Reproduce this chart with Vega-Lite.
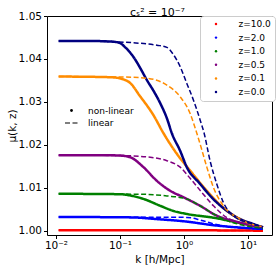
{
  "$schema": "https://vega.github.io/schema/vega-lite/v6.json",
  "width": 225,
  "height": 219,
  "autosize": {"type": "none"},
  "padding": {"left": 47, "top": 16, "right": 6, "bottom": 33},
  "background": "white",
  "config": {
    "font": "DejaVu Sans",
    "view": {"stroke": "black", "strokeWidth": 1},
    "axis": {"grid": false, "domain": false, "tickColor": "black", "tickSize": 3.5, "labelColor": "black", "labelFontSize": 10.5, "titleFontSize": 10.5, "titleFontWeight": "normal", "titleColor": "black", "labelFont": "DejaVu Sans", "titleFont": "DejaVu Sans"},
    "legend": {"labelFont": "DejaVu Sans", "labelFontSize": 9, "labelColor": "black"}
  },
  "title": {"text": "cₛ² = 10⁻⁷", "fontSize": 11, "fontWeight": "normal", "font": "DejaVu Sans", "offset": 3, "dy": 10, "dx": -2, "color": "black"},
  "data": {"values": [
    {"z": "z=10.0", "type": "non-linear", "k": 0.011, "mu": 1.0001},
    {"z": "z=10.0", "type": "non-linear", "k": 1.0, "mu": 1.0001},
    {"z": "z=10.0", "type": "non-linear", "k": 17.2, "mu": 1.0000},
    {"z": "z=10.0", "type": "linear", "k": 0.011, "mu": 1.0001},
    {"z": "z=10.0", "type": "linear", "k": 1.0, "mu": 1.0001},
    {"z": "z=10.0", "type": "linear", "k": 17.2, "mu": 1.0000},

    {"z": "z=2.0", "type": "non-linear", "k": 0.011, "mu": 1.0032},
    {"z": "z=2.0", "type": "non-linear", "k": 0.15, "mu": 1.0031},
    {"z": "z=2.0", "type": "non-linear", "k": 0.378, "mu": 1.0027},
    {"z": "z=2.0", "type": "non-linear", "k": 0.982, "mu": 1.0022},
    {"z": "z=2.0", "type": "non-linear", "k": 3.26, "mu": 1.0012},
    {"z": "z=2.0", "type": "non-linear", "k": 17.2, "mu": 1.0004},
    {"z": "z=2.0", "type": "linear", "k": 0.011, "mu": 1.0032},
    {"z": "z=2.0", "type": "linear", "k": 1.109, "mu": 1.0031},
    {"z": "z=2.0", "type": "linear", "k": 1.79, "mu": 1.0025},
    {"z": "z=2.0", "type": "linear", "k": 2.89, "mu": 1.0016},
    {"z": "z=2.0", "type": "linear", "k": 5.92, "mu": 1.0008},
    {"z": "z=2.0", "type": "linear", "k": 17.2, "mu": 1.0004},

    {"z": "z=1.0", "type": "non-linear", "k": 0.011, "mu": 1.0086},
    {"z": "z=1.0", "type": "non-linear", "k": 0.1, "mu": 1.0085},
    {"z": "z=1.0", "type": "non-linear", "k": 0.145, "mu": 1.0082},
    {"z": "z=1.0", "type": "non-linear", "k": 0.233, "mu": 1.0074},
    {"z": "z=1.0", "type": "non-linear", "k": 0.426, "mu": 1.0058},
    {"z": "z=1.0", "type": "non-linear", "k": 0.686, "mu": 1.0046},
    {"z": "z=1.0", "type": "non-linear", "k": 1.11, "mu": 1.0039},
    {"z": "z=1.0", "type": "non-linear", "k": 3.26, "mu": 1.0029},
    {"z": "z=1.0", "type": "non-linear", "k": 5.92, "mu": 1.0021},
    {"z": "z=1.0", "type": "non-linear", "k": 17.2, "mu": 1.0007},
    {"z": "z=1.0", "type": "linear", "k": 0.011, "mu": 1.0086},
    {"z": "z=1.0", "type": "linear", "k": 0.2, "mu": 1.0085},
    {"z": "z=1.0", "type": "linear", "k": 0.541, "mu": 1.0081},
    {"z": "z=1.0", "type": "linear", "k": 1.109, "mu": 1.0074},
    {"z": "z=1.0", "type": "linear", "k": 1.79, "mu": 1.0058},
    {"z": "z=1.0", "type": "linear", "k": 2.89, "mu": 1.0039},
    {"z": "z=1.0", "type": "linear", "k": 4.63, "mu": 1.0024},
    {"z": "z=1.0", "type": "linear", "k": 9.58, "mu": 1.0011},
    {"z": "z=1.0", "type": "linear", "k": 17.2, "mu": 1.0006},

    {"z": "z=0.5", "type": "non-linear", "k": 0.011, "mu": 1.0176},
    {"z": "z=0.5", "type": "non-linear", "k": 0.05, "mu": 1.0176},
    {"z": "z=0.5", "type": "non-linear", "k": 0.1, "mu": 1.0175},
    {"z": "z=0.5", "type": "non-linear", "k": 0.145, "mu": 1.0171},
    {"z": "z=0.5", "type": "non-linear", "k": 0.233, "mu": 1.0148},
    {"z": "z=0.5", "type": "non-linear", "k": 0.378, "mu": 1.0116},
    {"z": "z=0.5", "type": "non-linear", "k": 0.609, "mu": 1.0093},
    {"z": "z=0.5", "type": "non-linear", "k": 0.982, "mu": 1.0078},
    {"z": "z=0.5", "type": "non-linear", "k": 1.79, "mu": 1.0058},
    {"z": "z=0.5", "type": "non-linear", "k": 3.26, "mu": 1.0035},
    {"z": "z=0.5", "type": "non-linear", "k": 5.92, "mu": 1.0023},
    {"z": "z=0.5", "type": "non-linear", "k": 17.2, "mu": 1.0008},
    {"z": "z=0.5", "type": "linear", "k": 0.011, "mu": 1.0176},
    {"z": "z=0.5", "type": "linear", "k": 0.1, "mu": 1.0175},
    {"z": "z=0.5", "type": "linear", "k": 0.297, "mu": 1.0171},
    {"z": "z=0.5", "type": "linear", "k": 0.541, "mu": 1.0163},
    {"z": "z=0.5", "type": "linear", "k": 0.873, "mu": 1.0148},
    {"z": "z=0.5", "type": "linear", "k": 1.25, "mu": 1.0122},
    {"z": "z=0.5", "type": "linear", "k": 2.01, "mu": 1.0085},
    {"z": "z=0.5", "type": "linear", "k": 2.89, "mu": 1.0058},
    {"z": "z=0.5", "type": "linear", "k": 4.63, "mu": 1.0031},
    {"z": "z=0.5", "type": "linear", "k": 9.0, "mu": 1.0015},
    {"z": "z=0.5", "type": "linear", "k": 17.2, "mu": 1.0009},

    {"z": "z=0.1", "type": "non-linear", "k": 0.011, "mu": 1.0359},
    {"z": "z=0.1", "type": "non-linear", "k": 0.05, "mu": 1.0358},
    {"z": "z=0.1", "type": "non-linear", "k": 0.0794, "mu": 1.0357},
    {"z": "z=0.1", "type": "non-linear", "k": 0.136, "mu": 1.0347},
    {"z": "z=0.1", "type": "non-linear", "k": 0.209, "mu": 1.0312},
    {"z": "z=0.1", "type": "non-linear", "k": 0.334, "mu": 1.0269},
    {"z": "z=0.1", "type": "non-linear", "k": 0.479, "mu": 1.0227},
    {"z": "z=0.1", "type": "non-linear", "k": 0.775, "mu": 1.0179},
    {"z": "z=0.1", "type": "non-linear", "k": 1.25, "mu": 1.014},
    {"z": "z=0.1", "type": "non-linear", "k": 2.28, "mu": 1.0093},
    {"z": "z=0.1", "type": "non-linear", "k": 4.63, "mu": 1.0047},
    {"z": "z=0.1", "type": "non-linear", "k": 9.58, "mu": 1.002},
    {"z": "z=0.1", "type": "non-linear", "k": 17.2, "mu": 1.0008},
    {"z": "z=0.1", "type": "linear", "k": 0.011, "mu": 1.0359},
    {"z": "z=0.1", "type": "linear", "k": 0.1, "mu": 1.0358},
    {"z": "z=0.1", "type": "linear", "k": 0.264, "mu": 1.0355},
    {"z": "z=0.1", "type": "linear", "k": 0.541, "mu": 1.0339},
    {"z": "z=0.1", "type": "linear", "k": 0.873, "mu": 1.0312},
    {"z": "z=0.1", "type": "linear", "k": 1.25, "mu": 1.0273},
    {"z": "z=0.1", "type": "linear", "k": 1.59, "mu": 1.0227},
    {"z": "z=0.1", "type": "linear", "k": 1.79, "mu": 1.0202},
    {"z": "z=0.1", "type": "linear", "k": 2.28, "mu": 1.0148},
    {"z": "z=0.1", "type": "linear", "k": 2.89, "mu": 1.0101},
    {"z": "z=0.1", "type": "linear", "k": 4.13, "mu": 1.0058},
    {"z": "z=0.1", "type": "linear", "k": 7.53, "mu": 1.0027},
    {"z": "z=0.1", "type": "linear", "k": 17.2, "mu": 1.0009},

    {"z": "z=0.0", "type": "non-linear", "k": 0.011, "mu": 1.0442},
    {"z": "z=0.0", "type": "non-linear", "k": 0.03, "mu": 1.0442},
    {"z": "z=0.0", "type": "non-linear", "k": 0.06, "mu": 1.0441},
    {"z": "z=0.0", "type": "non-linear", "k": 0.0794, "mu": 1.044},
    {"z": "z=0.0", "type": "non-linear", "k": 0.1, "mu": 1.0437},
    {"z": "z=0.0", "type": "non-linear", "k": 0.121, "mu": 1.0427},
    {"z": "z=0.0", "type": "non-linear", "k": 0.162, "mu": 1.0405},
    {"z": "z=0.0", "type": "non-linear", "k": 0.209, "mu": 1.0378},
    {"z": "z=0.0", "type": "non-linear", "k": 0.263, "mu": 1.0351},
    {"z": "z=0.0", "type": "non-linear", "k": 0.334, "mu": 1.0326},
    {"z": "z=0.0", "type": "non-linear", "k": 0.426, "mu": 1.0297},
    {"z": "z=0.0", "type": "non-linear", "k": 0.541, "mu": 1.0262},
    {"z": "z=0.0", "type": "non-linear", "k": 0.647, "mu": 1.0227},
    {"z": "z=0.0", "type": "non-linear", "k": 0.873, "mu": 1.0186},
    {"z": "z=0.0", "type": "non-linear", "k": 1.109, "mu": 1.0148},
    {"z": "z=0.0", "type": "non-linear", "k": 1.79, "mu": 1.0109},
    {"z": "z=0.0", "type": "non-linear", "k": 2.86, "mu": 1.0074},
    {"z": "z=0.0", "type": "non-linear", "k": 4.63, "mu": 1.0047},
    {"z": "z=0.0", "type": "non-linear", "k": 7.53, "mu": 1.0027},
    {"z": "z=0.0", "type": "non-linear", "k": 12.0, "mu": 1.0016},
    {"z": "z=0.0", "type": "non-linear", "k": 17.2, "mu": 1.0008},
    {"z": "z=0.0", "type": "linear", "k": 0.011, "mu": 1.0442},
    {"z": "z=0.0", "type": "linear", "k": 0.05, "mu": 1.0441},
    {"z": "z=0.0", "type": "linear", "k": 0.15, "mu": 1.0438},
    {"z": "z=0.0", "type": "linear", "k": 0.378, "mu": 1.0432},
    {"z": "z=0.0", "type": "linear", "k": 0.541, "mu": 1.0427},
    {"z": "z=0.0", "type": "linear", "k": 0.686, "mu": 1.0410},
    {"z": "z=0.0", "type": "linear", "k": 0.873, "mu": 1.0382},
    {"z": "z=0.0", "type": "linear", "k": 1.109, "mu": 1.0343},
    {"z": "z=0.0", "type": "linear", "k": 1.41, "mu": 1.0304},
    {"z": "z=0.0", "type": "linear", "k": 1.79, "mu": 1.0258},
    {"z": "z=0.0", "type": "linear", "k": 2.07, "mu": 1.0227},
    {"z": "z=0.0", "type": "linear", "k": 2.56, "mu": 1.0163},
    {"z": "z=0.0", "type": "linear", "k": 3.26, "mu": 1.0109},
    {"z": "z=0.0", "type": "linear", "k": 4.13, "mu": 1.0066},
    {"z": "z=0.0", "type": "linear", "k": 5.92, "mu": 1.0035},
    {"z": "z=0.0", "type": "linear", "k": 9.58, "mu": 1.002},
    {"z": "z=0.0", "type": "linear", "k": 17.2, "mu": 1.0009}
  ]},
  "encoding": {
    "x": {"field": "k", "type": "quantitative",
      "scale": {"type": "log", "domain": [0.00724, 23.8], "nice": false},
      "axis": {"values": [0.01, 0.1, 1, 10], "title": "k [h/Mpc]", "titlePadding": 3, "labelPadding": 2,
        "labelExpr": "round(log(datum.value)/LN10) == -2 ? '10⁻²' : round(log(datum.value)/LN10) == -1 ? '10⁻¹' : round(log(datum.value)/LN10) == 0 ? '10⁰' : '10¹'"}},
    "y": {"field": "mu", "type": "quantitative",
      "scale": {"domain": [0.999, 1.05], "nice": false, "zero": false},
      "axis": {"values": [1.0, 1.01, 1.02, 1.03, 1.04, 1.05], "format": ".2f", "title": "μ(k, z)", "titlePadding": 1, "labelPadding": 2}},
    "color": {"field": "z", "type": "nominal",
      "scale": {"domain": ["z=10.0", "z=2.0", "z=1.0", "z=0.5", "z=0.1", "z=0.0"],
                "range": ["#ff0000", "#0000ff", "#008000", "#800080", "#ff8c00", "#000080"]},
      "legend": {"title": null, "orient": "none", "legendX": 153, "legendY": 0,
        "symbolType": "circle", "symbolSize": 6, "symbolStrokeWidth": 0,
        "fillColor": "white", "strokeColor": "#cccccc", "cornerRadius": 3, "padding": 3.5,
        "rowPadding": 3.6, "symbolOffset": 8, "labelOffset": 18,
        "labelExpr": "datum.label + '  '",
        "encode": {"symbols": {"update": {"fill": {"scale": "color", "field": "value"}, "fillOpacity": {"value": 1}}}}}}
  },
  "layer": [
    {"transform": [{"filter": "datum.type == 'non-linear'"}],
     "mark": {"type": "line", "strokeWidth": 2.5, "clip": true, "interpolate": "monotone"},
     "encoding": {"strokeDash": {"field": "type", "type": "nominal",
        "scale": {"domain": ["non-linear", "linear"], "range": [[1, 0], [5, 2.5]]},
        "legend": {"title": null, "orient": "none", "legendX": 20, "legendY": 90,
          "symbolStrokeColor": "black", "symbolStrokeWidth": 1.2, "symbolSize": 169, "symbolType": "stroke",
          "rowPadding": 2.5, "labelOffset": 12,
          "encode": {"symbols": {"update": {
            "shape": {"signal": "datum.value == 'non-linear' ? 'circle' : 'stroke'"},
            "size": {"signal": "datum.value == 'non-linear' ? 8 : 169"},
            "fill": {"signal": "datum.value == 'non-linear' ? 'black' : 'transparent'"},
            "stroke": {"value": "black"},
            "strokeDash": {"signal": "datum.value == 'non-linear' ? [1, 0] : [3, 1.5]"},
            "opacity": {"value": 1},
            "strokeOpacity": {"value": 1},
            "strokeWidth": {"signal": "datum.value == 'non-linear' ? 0 : 1.2"}}}}}}}},
    {"transform": [{"filter": "datum.type == 'linear'"}],
     "mark": {"type": "line", "strokeWidth": 1.5, "clip": true, "interpolate": "monotone"},
     "encoding": {"strokeDash": {"field": "type", "type": "nominal"}}}
  ]
}
